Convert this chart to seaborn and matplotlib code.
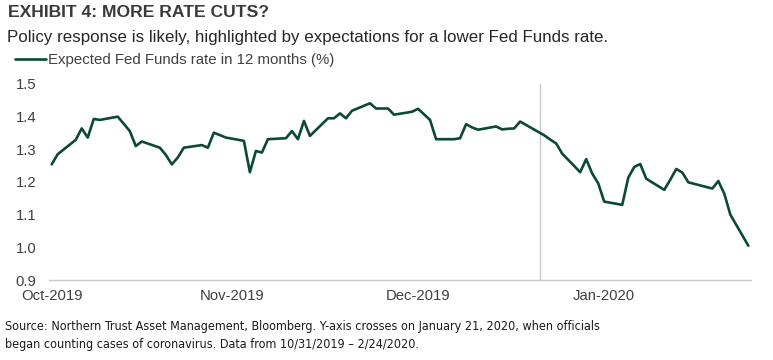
import pandas as pd
import matplotlib
matplotlib.use('Agg')
import matplotlib.pyplot as plt
from matplotlib import font_manager
import seaborn as sns

# Data: expected Fed Funds rate in 12 months (%), business days 10/31/2019 - 2/24/2020
start_date = '2019-10-31'
end_date = '2020-02-24'
holidays = ['2019-11-28', '2019-12-25', '2020-01-01', '2020-01-20', '2020-02-17']

rates = [
    1.254,                                                   # Oct 31
    1.285, 1.329, 1.364, 1.336, 1.393, 1.390, 1.400, 1.378,  # Nov
    1.356, 1.310, 1.324, 1.305, 1.283, 1.254, 1.275, 1.305,
    1.313, 1.305, 1.351, 1.336,
    1.326, 1.230, 1.295, 1.290, 1.331, 1.334, 1.356, 1.331,  # Dec
    1.387, 1.341, 1.395, 1.395, 1.410, 1.395, 1.418, 1.441,
    1.425, 1.425, 1.406, 1.415, 1.424,
    1.390, 1.331, 1.331, 1.334, 1.377, 1.367, 1.360, 1.370,  # Jan
    1.361, 1.363, 1.364, 1.385, 1.343, 1.330, 1.318, 1.287,
    1.230, 1.270, 1.226, 1.196, 1.140,
    1.130, 1.213, 1.246, 1.255, 1.210, 1.176, 1.207, 1.240,  # Feb
    1.229, 1.199, 1.180, 1.203, 1.164, 1.100, 1.005,
]

tick_dates = ['2019-10-31', '2019-11-30', '2019-12-31', '2020-01-31']
tick_labels = ['Oct-2019', 'Nov-2019', 'Dec-2019', 'Jan-2020']
y_ticks = [0.9, 1.0, 1.1, 1.2, 1.3, 1.4, 1.5]
covid_date = '2020-01-20 08:00'

dates = pd.bdate_range(start_date, end_date)
dates = dates[~dates.isin(pd.to_datetime(holidays))]
df = pd.DataFrame({'date': dates, 'rate': rates})

# Style
sns.set_style('white')
plt.rcParams['font.family'] = ['Liberation Sans', 'DejaVu Sans']

# the source note uses a narrow font; pick one if present
fonts = font_manager.fontManager.ttflist
names = {f.name for f in fonts}
foot_kw = dict(family=['Liberation Sans', 'DejaVu Sans'], fontsize=8.6)
if 'Liberation Sans Narrow' in names:
    foot_kw = dict(family=['Liberation Sans Narrow', 'DejaVu Sans'], fontsize=10)
elif any(f.name == 'DejaVu Sans' and f.stretch == 'condensed' for f in fonts):
    foot_kw = dict(family=['DejaVu Sans'], fontstretch='condensed', fontsize=9)
elif 'Roboto Condensed' in names:
    foot_kw = dict(family=['Roboto Condensed', 'DejaVu Sans'], fontsize=10)

green = '#0b4a30'
grey_line = '#c9c9c9'
text_col = '#404040'

fig = plt.figure(figsize=(7.73, 3.6), dpi=100)
ax = fig.add_axes([0.063, 0.2222, 0.909, 0.5445])

sns.lineplot(data=df, x='date', y='rate', ax=ax, color=green, linewidth=1.9,
             label='Expected Fed Funds rate in 12 months (%)', legend=False)

ax.axvline(pd.Timestamp(covid_date), color=grey_line, linewidth=1.0, zorder=0)

ax.set_xlim(pd.Timestamp(start_date) - pd.Timedelta(hours=12),
            pd.Timestamp(end_date) + pd.Timedelta(hours=12))
ax.set_ylim(0.9, 1.5)
ax.set_xticks(pd.to_datetime(tick_dates))
ax.set_xticklabels(tick_labels)
ax.set_yticks(y_ticks)
ax.set_yticklabels([f'{v:.1f}' for v in y_ticks])
ax.tick_params(axis='x', length=0, pad=6.5, labelsize=10.7, labelcolor=text_col)
ax.tick_params(axis='y', length=0, pad=9, labelsize=10.7, labelcolor=text_col)
ax.set_xlabel('')
ax.set_ylabel('')

sns.despine(ax=ax, left=True, top=True, right=True)
ax.spines['bottom'].set_color(grey_line)
ax.spines['bottom'].set_linewidth(1.0)

# Titles
fig.text(0.0105, 0.966, 'EXHIBIT 4: MORE RATE CUTS?', fontsize=12.6, fontweight='bold',
         color='#3a3a3a', ha='left', va='center')
fig.text(0.009, 0.896, 'Policy response is likely, highlighted by expectations for a lower Fed Funds rate.',
         fontsize=12.2, color='#262626', ha='left', va='center')

# Legend
handles, labels = ax.get_legend_handles_labels()
fig.legend(handles, labels, loc='center left', bbox_to_anchor=(0.019, 0.833),
           frameon=False, fontsize=10.8, handlelength=2.1, handletextpad=0.15,
           borderaxespad=0, borderpad=0, labelcolor=text_col)

# Footer
fig.text(0.006, 0.094, 'Source: Northern Trust Asset Management, Bloomberg. Y-axis crosses on January 21, 2020, when officials',
         color='#1a1a1a', ha='left', va='center', **foot_kw)
fig.text(0.006, 0.042, 'began counting cases of coronavirus. Data from 10/31/2019 \u2013 2/24/2020.',
         color='#1a1a1a', ha='left', va='center', **foot_kw)

fig.savefig('out.png', dpi=100)
